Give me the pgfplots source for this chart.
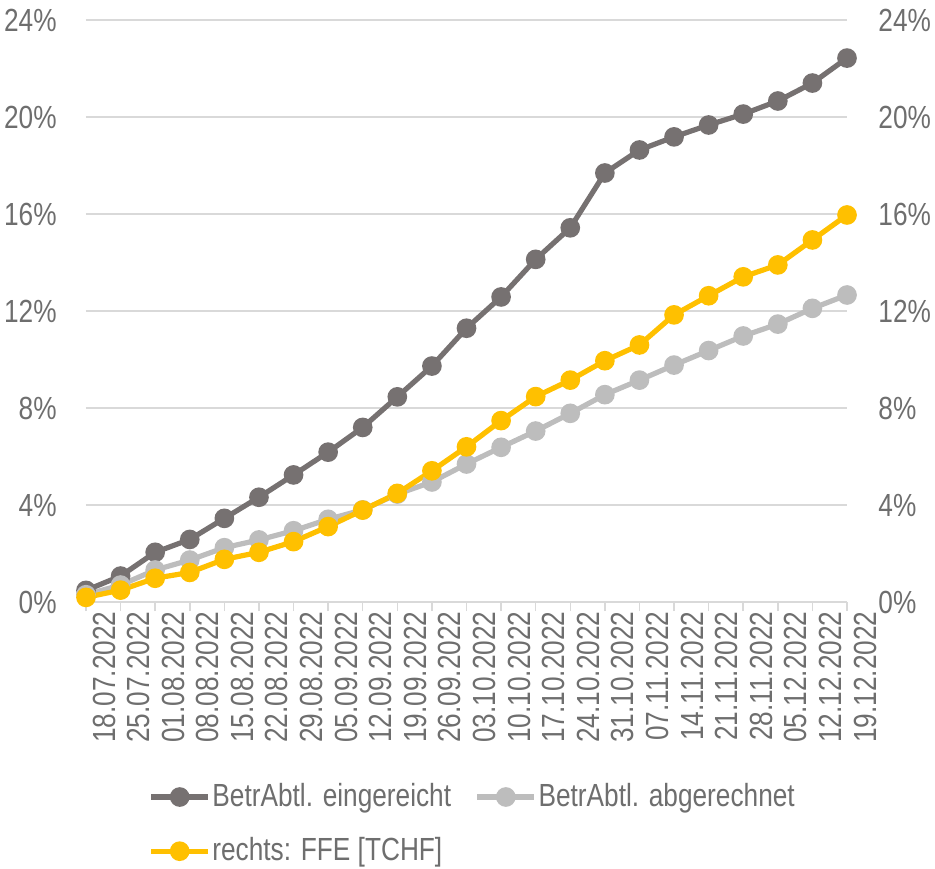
\documentclass[border=0pt]{standalone}
\usepackage{pgfplots}
\pgfplotsset{compat=1.18}
\usepackage{fontspec}
\setmainfont{Liberation Sans}[FakeStretch=0.82]
\definecolor{cdark}{HTML}{767171}
\definecolor{clight}{HTML}{BDBDBD}
\definecolor{cyel}{HTML}{FFC000}
\definecolor{cgrid}{HTML}{D9D9D9}
\definecolor{ctext}{HTML}{6E6E6E}
\begin{document}
\fontsize{16}{19}\selectfont
\begin{tikzpicture}
\pgfplotsset{
  every axis/.append style={
    scale only axis, width=380.5pt, height=291pt,
    xmin=0, xmax=22, ymin=0, ymax=24,
    ytick={0,4,...,24},
    clip=false,
    axis line style={draw=none},
    /pgf/number format/assume math mode=true,
    tick label style={font=\fontsize{16}{19}\selectfont, text=ctext},
    yticklabel={\pgfmathprintnumber{\tick}\%},
  }
}
\begin{axis}[
  name=main,
  xtick={0,...,22},
  xticklabels={18.07.2022,25.07.2022,01.08.2022,08.08.2022,15.08.2022,22.08.2022,29.08.2022,05.09.2022,12.09.2022,19.09.2022,26.09.2022,03.10.2022,10.10.2022,17.10.2022,24.10.2022,31.10.2022,07.11.2022,14.11.2022,21.11.2022,28.11.2022,05.12.2022,12.12.2022,19.12.2022},
  xtick pos=bottom, xtick align=outside,
  major tick length=4.5pt,
  xtick style={draw=cgrid, line width=0.75pt},
  ytick style={draw=none},
  ytick pos=left,
  ymajorgrids, major grid style={draw=cgrid, line width=0.75pt},
  xticklabel style={rotate=90, anchor=east, inner sep=0pt, yshift=-9pt},
  yticklabel style={anchor=east, inner sep=0pt, xshift=-14.5pt},
  legend columns=2,
  legend style={draw=none, at={(0.5,0)}, anchor=north, yshift=-89.5pt, xshift=3pt,
    font=\fontsize{16}{19}\selectfont, text=ctext,
    /tikz/every even column/.append style={column sep=11pt},
    row sep=11.5pt, inner sep=0pt,
    nodes={inner sep=0.8pt}},
  legend cell align=left,
  legend image code/.code={\draw[mark repeat=2,mark phase=2,#1] plot coordinates {(0pt,0pt) (14.25pt,0pt) (28.5pt,0pt)};},
  every axis plot/.append style={line width=2.6pt, mark=*, mark size=3.6pt, mark options={line width=0pt}},
]
\addplot[color=cdark, mark options={fill=cdark, draw=cdark}] coordinates {
(0,0.48)(1,1.07)(2,2.05)(3,2.58)(4,3.45)(5,4.32)(6,5.24)(7,6.18)(8,7.20)(9,8.46)(10,9.73)(11,11.29)(12,12.58)(13,14.13)(14,15.43)(15,17.69)(16,18.64)(17,19.18)(18,19.67)(19,20.12)(20,20.66)(21,21.40)(22,22.43)};
\addlegendentry{BetrAbtl. eingereicht}
\addplot[color=clight, mark options={fill=clight, draw=clight}] coordinates {
(0,0.30)(1,0.70)(2,1.32)(3,1.73)(4,2.24)(5,2.56)(6,2.94)(7,3.41)(8,3.80)(9,4.45)(10,4.95)(11,5.69)(12,6.38)(13,7.05)(14,7.78)(15,8.55)(16,9.15)(17,9.77)(18,10.37)(19,10.97)(20,11.46)(21,12.11)(22,12.66)};
\addlegendentry{BetrAbtl. abgerechnet}
\addplot[color=cyel, mark options={fill=cyel, draw=cyel}] coordinates {
(0,0.19)(1,0.49)(2,0.98)(3,1.22)(4,1.76)(5,2.05)(6,2.49)(7,3.11)(8,3.79)(9,4.48)(10,5.41)(11,6.40)(12,7.48)(13,8.47)(14,9.15)(15,9.95)(16,10.60)(17,11.84)(18,12.63)(19,13.41)(20,13.90)(21,14.93)(22,15.96)};
\addlegendentry{rechts: FFE [TCHF]}
\end{axis}
\begin{axis}[
  axis x line=none,
  ytick pos=right,
  ytick style={draw=none},
  yticklabel pos=right,
  yticklabel style={anchor=west, inner sep=0pt, xshift=15.5pt},
]
\end{axis}
\pgfresetboundingbox
\path[use as bounding box] ([shift={(-43pt,-133pt)}]main.south west) rectangle ([shift={(44pt,10pt)}]main.north east);
\end{tikzpicture}
\end{document}
